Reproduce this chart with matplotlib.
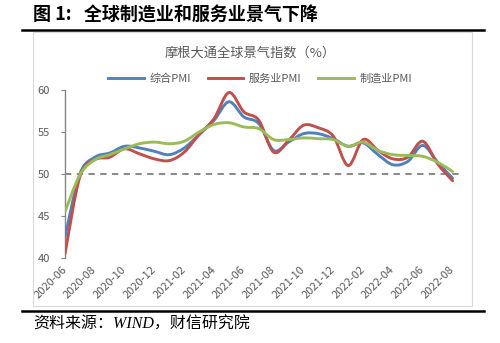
import matplotlib
matplotlib.use("Agg")
import matplotlib.pyplot as plt
import matplotlib.transforms as mtransforms
from matplotlib.path import Path
from matplotlib.patches import PathPatch, Rectangle
from matplotlib.lines import Line2D

plt.rcParams['font.family'] = ['Noto Sans CJK SC', 'DejaVu Sans']

# JPM global PMI, monthly 2020-06 .. 2022-08
months = ['2020-06', '2020-07', '2020-08', '2020-09', '2020-10', '2020-11', '2020-12',
          '2021-01', '2021-02', '2021-03', '2021-04', '2021-05', '2021-06', '2021-07',
          '2021-08', '2021-09', '2021-10', '2021-11', '2021-12', '2022-01', '2022-02',
          '2022-03', '2022-04', '2022-05', '2022-06', '2022-07', '2022-08']
composite = [42.5, 50.0, 52.0, 52.5, 53.3, 53.1, 52.7, 52.3, 53.1, 54.7, 56.4, 58.6, 56.8, 56.0,
             52.8, 53.8, 54.8, 54.8, 54.2, 53.3, 53.7, 52.3, 51.1, 51.5, 53.4, 51.4, 49.5]
services = [40.5, 49.7, 51.7, 52.0, 53.0, 52.4, 51.8, 51.6, 52.6, 54.7, 56.6, 59.7, 57.4, 56.4,
            52.6, 54.0, 55.8, 55.5, 54.5, 51.0, 54.1, 52.8, 51.8, 52.0, 53.9, 51.2, 49.2]
manufacturing = [45.5, 49.9, 51.7, 52.3, 53.0, 53.6, 53.8, 53.6, 53.9, 55.0, 55.9, 56.1, 55.6, 55.4,
                 54.1, 54.1, 54.3, 54.2, 54.1, 53.3, 53.8, 52.8, 52.3, 52.2, 52.1, 51.4, 50.3]
series_names = ['综合PMI', '服务业PMI', '制造业PMI']
colors = ['#4F81BD', '#C0504D', '#9BBB59']


def smooth_path(xs, ys):
    # Excel style smoothed line: cubic bezier through every point
    pts = list(zip(xs, ys))
    n = len(pts)
    verts = [pts[0]]
    codes = [Path.MOVETO]
    for i in range(n - 1):
        p0 = pts[i - 1] if i > 0 else pts[i]
        p1 = pts[i]
        p2 = pts[i + 1]
        p3 = pts[i + 2] if i + 2 < n else pts[i + 1]
        c1 = (p1[0] + (p2[0] - p0[0]) / 6, p1[1] + (p2[1] - p0[1]) / 6)
        c2 = (p2[0] - (p3[0] - p1[0]) / 6, p2[1] - (p3[1] - p1[1]) / 6)
        verts += [c1, c2, p2]
        codes += [Path.CURVE4] * 3
    return Path(verts, codes)


fig = plt.figure(figsize=(5, 3.43), dpi=100)
W, H = 500, 343

def fx(px):
    return px / W

def fy(py):
    return 1 - py / H

# heading, rules and chart frame
fig.text(fx(33), fy(15), '图 1:   全球制造业和服务业景气下降', fontsize=13, fontweight='bold',
         va='center', ha='left', color='black')
fig.add_artist(Line2D([fx(22), fx(484)], [fy(30), fy(30)], color='black', lw=1.8))
fig.add_artist(Rectangle((fx(33), fy(306)), fx(472) - fx(33), fy(32) - fy(306),
                         fill=False, edgecolor='#D9D9D9', lw=0.8))
fig.add_artist(Line2D([fx(22), fx(484)], [fy(310.5), fy(310.5)], color='black', lw=1.8))
fig.text(fx(33), fy(325), '资料来源：WIND，财信研究院', fontsize=11.5, style='italic',
         family=['Liberation Serif', 'Noto Sans CJK SC'],
         va='center', ha='left', color='black')

fig.text(fx(250), fy(53), '摩根大通全球景气指数（%）', fontsize=9.5, color='#595959',
         ha='center', va='center')

ax = fig.add_axes([fx(65), fy(258), fx(460) - fx(65), fy(90) - fy(258)])
x = list(range(len(months)))
for ys, c in zip([composite, services, manufacturing], colors):
    ax.add_patch(PathPatch(smooth_path(x, ys), fill=False, edgecolor=c, lw=2.1,
                           capstyle='round', joinstyle='round', zorder=3))

ax.axhline(50, color='#7F7F7F', lw=1.3, dashes=(3.5, 3), zorder=2)

ax.set_xlim(0, 26.5)
ax.set_ylim(40, 60)
ax.set_yticks([40, 45, 50, 55, 60])
ax.set_xticks(x[::2])
ax.set_xticklabels(months[::2], rotation=45, ha='right', va='center',
                   rotation_mode='anchor', fontsize=8, color='#595959')
offset = mtransforms.ScaledTranslation(6 / 100, 0, fig.dpi_scale_trans)
for lbl in ax.get_xticklabels():
    lbl.set_transform(lbl.get_transform() + offset)
ax.tick_params(axis='x', length=0, pad=7)
ax.tick_params(axis='y', length=3, width=0.8, color='#868686', labelsize=8,
               labelcolor='#595959', pad=8)
for side in ['top', 'right', 'bottom']:
    ax.spines[side].set_visible(False)
ax.spines['left'].set_color('#868686')
ax.spines['left'].set_linewidth(1.0)
ax.patch.set_alpha(0)

# legend row
handles = [Line2D([], [], color=c, lw=2.1) for c in colors]
fig.legend(handles, series_names, loc='center', bbox_to_anchor=(fx(260), fy(79)),
           ncol=3, frameon=False, fontsize=8, handlelength=3.2, columnspacing=1.5,
           handletextpad=0.5, labelcolor='#595959')

fig.savefig('out.png', dpi=100)
